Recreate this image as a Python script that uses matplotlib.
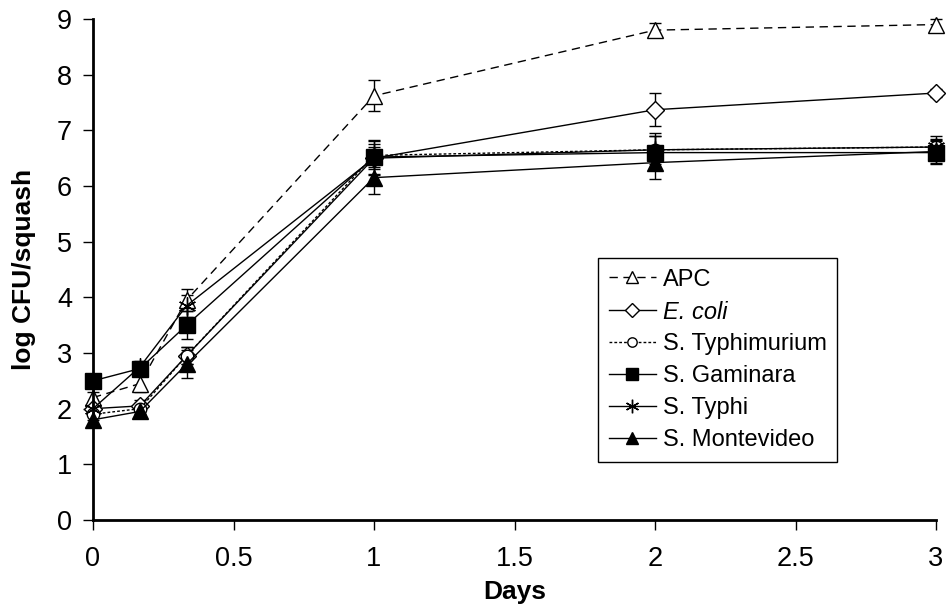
import matplotlib
matplotlib.use("Agg")
import matplotlib.pyplot as plt
from matplotlib.lines import Line2D

plt.rcParams['font.family'] = ['Liberation Sans', 'DejaVu Sans']

days = [0, 0.167, 0.333, 1, 2, 3]
series_names = ["APC", "E. coli", "S. Typhimurium", "S. Gaminara", "S. Typhi", "S. Montevideo"]
apc = [2.2, 2.45, 3.95, 7.62, 8.8, 8.9]
apc_err = [0.1, 0.15, 0.2, 0.28, 0.12, 0.1]
ecoli = [2.0, 2.05, 2.95, 6.5, 7.37, 7.67]
ecoli_err = [0.1, 0.1, 0.15, 0.2, 0.3, 0.08]
typhimurium = [1.9, 2.0, 2.95, 6.55, 6.65, 6.7]
typhimurium_err = [0.1, 0.1, 0.15, 0.2, 0.25, 0.15]
gaminara = [2.5, 2.72, 3.5, 6.52, 6.6, 6.6]
gaminara_err = [0.1, 0.1, 0.25, 0.3, 0.3, 0.2]
typhi = [2.0, 2.75, 3.85, 6.5, 6.65, 6.7]
typhi_err = [0.1, 0.1, 0.2, 0.3, 0.3, 0.2]
montevideo = [1.8, 1.95, 2.8, 6.15, 6.42, 6.62]
montevideo_err = [0.1, 0.1, 0.25, 0.3, 0.3, 0.2]

values = [apc, ecoli, typhimurium, gaminara, typhi, montevideo]
errors = [apc_err, ecoli_err, typhimurium_err, gaminara_err, typhi_err, montevideo_err]
styles = [
    dict(ls=(0, (6, 4)), marker='^', mfc='white', ms=11),
    dict(ls='-', marker='D', mfc='white', ms=9),
    dict(ls=(0, (2, 1.5)), marker='o', mfc='white', ms=9),
    dict(ls='-', marker='s', mfc='black', ms=11),
    dict(ls='-', marker=(6, 2, 0), mfc='black', ms=13),
    dict(ls='-', marker='^', mfc='black', ms=11),
]

fig = plt.figure(figsize=(9.47, 6.10), dpi=100)
ax = fig.add_axes([93/947, 1-520/610, (936-93)/947, (520-19)/610])

handles = []
for name, v, e, st in zip(series_names, values, errors, styles):
    ax.errorbar(days, v, yerr=e, color='black', lw=1.0, ls=st['ls'],
                marker=st['marker'], mfc=st['mfc'], mec='black', ms=st['ms'],
                mew=1.0, capsize=4, elinewidth=1.0, capthick=1.0, clip_on=False)
    handles.append(Line2D([], [], color='black', lw=1.0, ls=st['ls'], marker=st['marker'],
                          mfc=st['mfc'], mec='black', ms=st['ms'] * 0.75, mew=1.0))

ax.set_xlim(0, 3)
ax.set_ylim(0, 9)
ax.set_xticks([0, 0.5, 1, 1.5, 2, 2.5, 3])
ax.set_xticklabels(['0', '0.5', '1', '1.5', '2', '2.5', '3'])
ax.set_yticks(range(10))
for s in ['top', 'right']:
    ax.spines[s].set_visible(False)
for s in ['left', 'bottom']:
    ax.spines[s].set_linewidth(2.0)
ax.tick_params(axis='both', direction='out', length=7, width=1, labelsize=19.5, pad=8)
ax.tick_params(axis='x', pad=12)
ax.set_xlabel('Days', fontsize=19, fontweight='bold')
ax.set_ylabel('log CFU/squash', fontsize=19, fontweight='bold')
ax.xaxis.set_label_coords(0.5, (520-580)/501)
ax.yaxis.set_label_coords((36-93)/843, 0.5)

leg = fig.legend(handles, series_names, loc='upper left',
                 bbox_to_anchor=(598/947, 1-258/610), fontsize=17,
                 frameon=True, fancybox=False, edgecolor='black', framealpha=1,
                 handlelength=2.0, handletextpad=0.3, labelspacing=0.42,
                 borderpad=0.45, borderaxespad=0)
leg.get_frame().set_linewidth(1.0)
leg.get_texts()[1].set_style('italic')

fig.savefig('out.png', dpi=100)
